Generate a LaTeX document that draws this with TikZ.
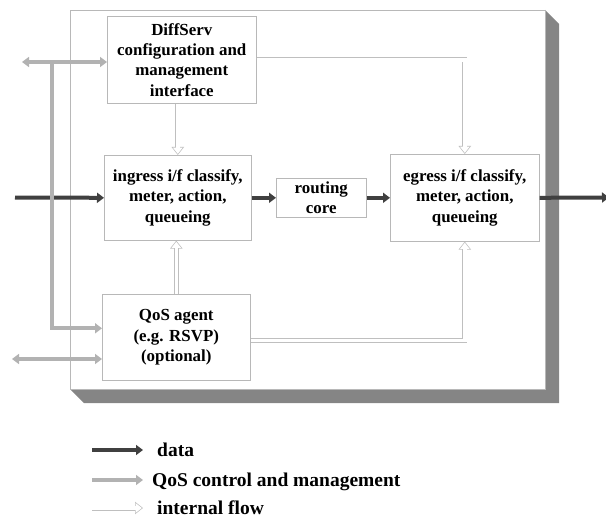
\documentclass[tikz,border=0pt]{standalone}
\usepackage{fontspec}
\setmainfont{Liberation Serif}
\usetikzlibrary{arrows.meta,positioning,calc}

\begin{document}
\begin{tikzpicture}[x=1pt, y=-1pt,
    font=\fontsize{16.9}{20.3}\selectfont\bfseries,
    box/.style={draw=black!28, line width=0.6pt, fill=white, align=center, anchor=north west, inner sep=0pt},
    data/.style={draw=black!75, line width=4pt, -{Triangle[length=7pt, width=10pt]}},
    ctrl/.style={draw=black!30, line width=4pt, -{Triangle[length=7pt, width=10pt]}},
    ctrlboth/.style={ctrl, {Triangle[length=7pt, width=10pt]}-{Triangle[length=7pt, width=10pt]}},
    internal/.style={draw=black!25, line width=5pt, -{Triangle[length=8pt, width=12pt]},
        postaction={draw=white, line width=3.6pt, shorten >=1.2pt, -{Triangle[length=6.1pt, width=9.2pt]}}},
    legend/.style={font=\fontsize{19.5}{23}\selectfont\bfseries, anchor=base west, inner sep=0pt}]
    \useasboundingbox (0,0) rectangle (606,519);

    % Router panel with shadow
    \fill[black!48] (545,10) -- (559,24) -- (559,403) -- (84,403) -- (70,389) -- (545,389) -- cycle;
    \draw[black!28, line width=0.6pt, fill=white] (70,10) rectangle (545,389);

    % Blocks
    \node[box, minimum width=149pt, minimum height=87pt] (diffserv) at (107,16) {DiffServ\\configuration and\\management\\interface};
    \node[box, minimum width=147pt, minimum height=85pt] (ingress) at (104,155) {ingress i/f classify,\\meter, action,\\queueing};
    \node[box, minimum width=90pt, minimum height=39pt] (routing) at (276,178) {routing\\core};
    \node[box, minimum width=149pt, minimum height=87pt] (egress) at (390,154) {egress i/f classify,\\meter, action,\\queueing};
    \node[box, minimum width=148pt, minimum height=86pt] (qos) at (102,294) {QoS agent\\(e.g. RSVP)\\(optional)};

    % Data path
    \coordinate (datain) at (15,197.5);
    \coordinate (dataout) at (609,197.5);
    \draw[data] (datain) -- (ingress.west);
    \draw[data] (ingress.east) -- (routing.west);
    \draw[data] (routing.east) -- (egress.west);
    \draw[data] (egress.east) -- (dataout);

    % QoS control and management
    \coordinate (ctrltop) at (22,62);
    \coordinate (ctrljoin) at (52,62);
    \coordinate (ctrlbot) at (12,359);
    \draw[ctrlboth] (ctrltop) -- (diffserv.west |- ctrltop);
    \draw[ctrl] (ctrljoin) |- ([yshift=9pt]qos.west);
    \draw[ctrlboth] (ctrlbot) -- (qos.west |- ctrlbot);

    % Internal flow
    \draw[internal] (ingress.north |- diffserv.south) -- (ingress.north);
    \draw[internal] (qos.north) -- (qos.north |- ingress.south);
    \draw[internal] (diffserv.east) -| (egress.north);
    \draw[internal] ([yshift=-3pt]qos.east) -| (egress.south);

    % Legend
    \coordinate (legdataa) at (92,450);
    \coordinate (legdatab) at (143,450);
    \coordinate (legctrla) at (92,480);
    \coordinate (legctrlb) at (143,480);
    \coordinate (legintla) at (92,508);
    \coordinate (legintlb) at (143,508);
    \draw[data] (legdataa) -- (legdatab);
    \draw[ctrl] (legctrla) -- (legctrlb);
    \draw[internal] (legintla) -- (legintlb);
    \node[legend] (datalab) at (157,456) {data};
    \node[legend] (ctrllab) at (152,486) {QoS control and management};
    \node[legend] (intllab) at (157,514) {internal flow};
\end{tikzpicture}
\end{document}
